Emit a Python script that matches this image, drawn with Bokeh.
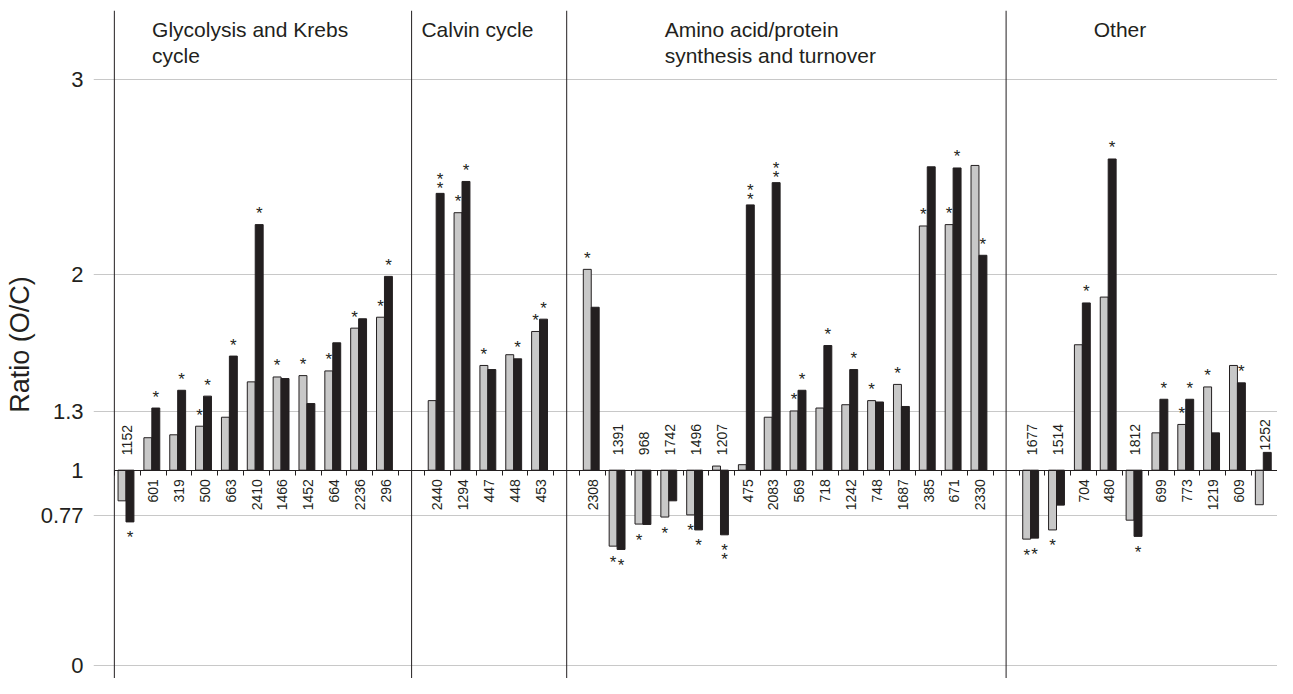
import math
from bokeh.plotting import figure
from bokeh.models import Range1d, FixedTicker, Span, ColumnDataSource
from bokeh.core.properties import value
from bokeh.embed import file_html
from bokeh.resources import INLINE

# ---------------- data ----------------
group_titles = [["Glycolysis and Krebs", "cycle"],
                ["Calvin cycle"],
                ["Amino acid/protein", "synthesis and turnover"],
                ["Other"]]

glyc_labels = ["1152", "601", "319", "500", "663", "2410", "1466", "1452", "664", "2236", "296"]
glyc_gray = [0.843, 1.166, 1.181, 1.225, 1.271, 1.452, 1.477, 1.484, 1.508, 1.727, 1.783]
glyc_black = [0.735, 1.318, 1.409, 1.379, 1.584, 2.257, 1.469, 1.341, 1.652, 1.775, 1.992]
glyc_gray_star = [0, 0, 0, 1, 0, 0, 1, 1, 1, 1, 1]
glyc_black_star = [1, 1, 1, 1, 1, 1, 0, 0, 0, 0, 1]

calvin_labels = ["2440", "1294", "447", "448", "453"]
calvin_gray = [1.356, 2.318, 1.536, 1.591, 1.710]
calvin_black = [2.417, 2.478, 1.515, 1.570, 1.773]
calvin_gray_star = [0, 1, 1, 0, 1]
calvin_black_star = [2, 1, 0, 1, 1]

amino_labels = ["2308", "1391", "968", "1742", "1496", "1207", "475", "2083", "569", "718",
                "1242", "748", "1687", "385", "671", "2330"]
amino_gray = [2.028, 0.611, 0.724, 0.760, 0.771, 1.021, 1.028, 1.271, 1.303, 1.318,
              1.335, 1.356, 1.439, 2.250, 2.257, 2.560]
amino_black = [1.834, 0.594, 0.722, 0.843, 0.694, 0.669, 2.358, 2.472, 1.409, 1.638,
               1.515, 1.349, 1.326, 2.553, 2.547, 2.100]
amino_gray_star = [1, 1, 1, 1, 1, 0, 0, 0, 1, 0, 0, 1, 1, 1, 1, 0]
amino_black_star = [0, 1, 0, 0, 1, 2, 2, 2, 1, 1, 1, 0, 0, 0, 1, 1]

other_labels = ["1677", "1514", "704", "480", "1812", "699", "773", "1219", "609", "1252"]
other_gray = [0.647, 0.694, 1.642, 1.886, 0.744, 1.191, 1.234, 1.426, 1.536, 0.823]
other_black = [0.652, 0.821, 1.856, 2.593, 0.661, 1.363, 1.363, 1.191, 1.447, 1.091]
other_gray_star = [1, 1, 0, 0, 0, 0, 1, 1, 0, 0]
other_black_star = [1, 0, 1, 1, 1, 1, 1, 0, 1, 0]

y_ticks = [0, 0.77, 1, 1.3, 2, 3]
y_tick_labels = ["0", "0.77", "1", "1.3", "2", "3"]
baseline = 1.0

groups = [
    (glyc_labels, glyc_gray, glyc_black, glyc_gray_star, glyc_black_star),
    (calvin_labels, calvin_gray, calvin_black, calvin_gray_star, calvin_black_star),
    (amino_labels, amino_gray, amino_black, amino_gray_star, amino_black_star),
    (other_labels, other_gray, other_black, other_gray_star, other_black_star),
]

# ---------------- style / layout ----------------
TEXT = "#231f20"
GRAY = "#c8c8c8"
FONT = value("Liberation Sans")
BAR_W = 0.307
GRAY_OFF = -0.2035
BLACK_OFF = 0.1035
title_x_shift = [1.46, -0.12, 3.29, 2.89]   # offset of title from group start slot
title_line_y = [3.256, 3.123]
Y0, Y1 = -0.0666, 3.3532
H, TOP, BOTTOM = 678, 10, 0
PX = (H - TOP - BOTTOM) / (Y1 - Y0)   # pixels per ratio unit

# slot layout: each group followed by one empty slot
starts = []
s = 0
for g in groups:
    starts.append(s)
    s += len(g[0]) + 1
n_slots = s - 1  # 45

cats_x, cats_txt, cats_up, cats_y = [], [], [], []
gx, gtop, bx, btop = [], [], [], []
star_up = dict(x=[], y=[], off=[])
star_dn = dict(x=[], y=[], off=[])


def add_stars(x, v, n):
    if n == 0:
        return
    if v >= baseline:
        offs = [-11] if n == 1 else [-5, -14]
        for o in offs:
            star_up["x"].append(x); star_up["y"].append(v); star_up["off"].append(o)
    else:
        offs = [16] if n == 1 else [16, 25]
        for o in offs:
            star_dn["x"].append(x); star_dn["y"].append(v); star_dn["off"].append(o)


for st, (labs, gv, bv, gs, bs) in zip(starts, groups):
    for i, lab in enumerate(labs):
        c = st + i + 0.5
        is_up = gv[i] < baseline or bv[i] < baseline
        cats_x.append(c)
        cats_txt.append(lab)
        cats_up.append(is_up)
        if is_up:
            cats_y.append(max(baseline + 15 / PX, max(gv[i], bv[i]) + 2 / PX))
        else:
            cats_y.append(baseline - 9 / PX)
        gx.append(c + GRAY_OFF); gtop.append(gv[i])
        bx.append(c + BLACK_OFF); btop.append(bv[i])
        add_stars(c + GRAY_OFF, gv[i], gs[i])
        add_stars(c + BLACK_OFF, bv[i], bs[i])

p = figure(width=1277, height=H,
           x_range=Range1d(-0.807, n_slots), y_range=Range1d(Y0, Y1),
           output_backend="svg", toolbar_location=None,
           min_border_left=93, min_border_right=0, min_border_top=TOP, min_border_bottom=BOTTOM)
p.outline_line_color = None
p.background_fill_color = "white"
p.xgrid.visible = False
p.ygrid.ticker = FixedTicker(ticks=[t for t in y_ticks if t != baseline])
p.ygrid.grid_line_color = GRAY
p.ygrid.grid_line_width = 1

# y axis
p.yaxis.ticker = FixedTicker(ticks=y_ticks)
p.yaxis.major_label_overrides = {t: l for t, l in zip(y_ticks, y_tick_labels)}
p.yaxis.axis_line_color = None
p.yaxis.major_tick_line_color = None
p.yaxis.minor_tick_line_color = None
p.yaxis.major_tick_out = 0
p.yaxis.major_tick_in = 0
p.yaxis.major_label_standoff = 10
p.yaxis.major_label_text_font = "Liberation Sans"
p.yaxis.major_label_text_font_size = "22px"
p.yaxis.major_label_text_color = TEXT
p.yaxis.axis_label = "Ratio (O/C)"
p.yaxis.axis_label_standoff = 3
p.yaxis.axis_label_text_font = "Liberation Sans"
p.yaxis.axis_label_text_font_size = "27px"
p.yaxis.axis_label_text_font_style = "normal"
p.yaxis.axis_label_text_color = TEXT

# x axis drawn at the ratio = 1 baseline
p.xaxis.fixed_location = baseline
p.xaxis.ticker = FixedTicker(ticks=list(range(n_slots + 1)))
p.xaxis.major_label_overrides = {i: "" for i in range(n_slots + 1)}
p.xaxis.bounds = (0, n_slots)
p.xaxis.axis_line_color = TEXT
p.xaxis.major_tick_line_color = TEXT
p.xaxis.major_tick_out = 5
p.xaxis.major_tick_in = 0
p.xaxis.minor_tick_line_color = None

# vertical axis line and group separators
p.add_layout(Span(location=0, dimension="height", line_color=TEXT, line_width=1))
for st in starts[1:]:
    p.add_layout(Span(location=st - 0.5, dimension="height", line_color=TEXT, line_width=1))

# bars
p.vbar(x=gx, width=BAR_W, bottom=baseline, top=gtop, fill_color=GRAY, line_color=TEXT, line_width=1)
p.vbar(x=bx, width=BAR_W, bottom=baseline, top=btop, fill_color=TEXT, line_color=TEXT, line_width=1)

# category labels
dn = ColumnDataSource(dict(x=[x for x, u in zip(cats_x, cats_up) if not u],
                           y=[y for y, u in zip(cats_y, cats_up) if not u],
                           t=[t for t, u in zip(cats_txt, cats_up) if not u]))
up = ColumnDataSource(dict(x=[x for x, u in zip(cats_x, cats_up) if u],
                           y=[y for y, u in zip(cats_y, cats_up) if u],
                           t=[t for t, u in zip(cats_txt, cats_up) if u]))
p.text(x="x", y="y", text="t", source=dn, angle=math.pi / 2,
       text_align="right", text_baseline="middle", text_font=FONT,
       text_font_size="14px", text_color=TEXT)
p.text(x="x", y="y", text="t", source=up, angle=math.pi / 2,
       text_align="left", text_baseline="middle", text_font=FONT,
       text_font_size="14px", text_color=TEXT)

# significance stars
for d in (star_up, star_dn):
    src = ColumnDataSource(dict(x=d["x"], y=d["y"], off=d["off"], t=["*"] * len(d["x"])))
    p.text(x="x", y="y", text="t", y_offset="off", source=src, text_align="center",
           text_baseline="middle", text_font=FONT, text_font_size="17px", text_color=TEXT)

# group titles
tx, ty, tt = [], [], []
for st, lines, dx in zip(starts, group_titles, title_x_shift):
    for k, line in enumerate(lines):
        tx.append(st + dx); ty.append(title_line_y[k]); tt.append(line)
p.text(x=tx, y=ty, text=tt, text_align="left", text_baseline="alphabetic",
       text_font=FONT, text_font_size="21px", text_color=TEXT)

open("out.html", "w").write(file_html(p, INLINE))
